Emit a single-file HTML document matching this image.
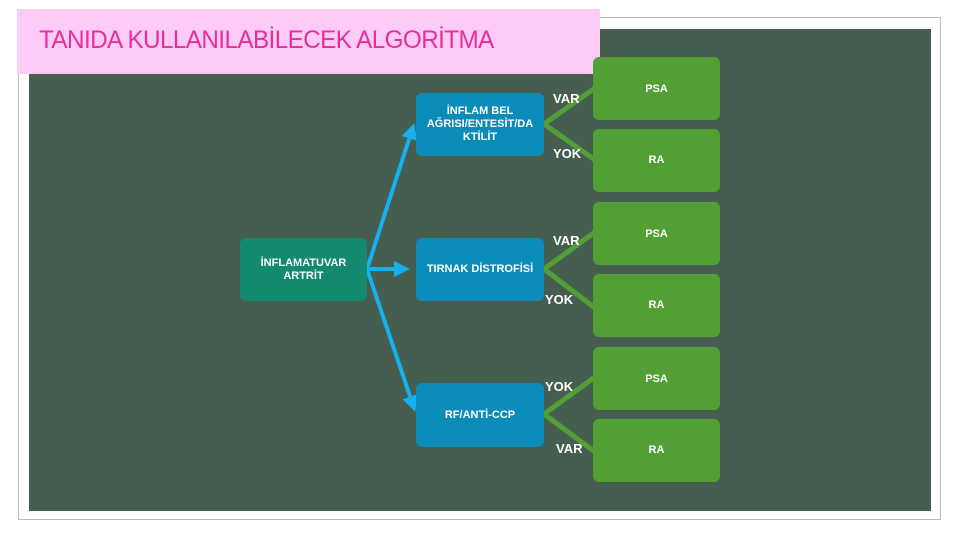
<!DOCTYPE html>
<html><head><meta charset="utf-8"><style>
body{margin:0;width:960px;height:540px;background:#fff;position:relative;overflow:hidden;font-family:"Liberation Sans",sans-serif}
.a{position:absolute}
.frame{left:18px;top:17px;width:923px;height:503px;border:1px solid #bdbdbd;box-sizing:border-box}
.panel{left:29px;top:29px;width:902px;height:482px;background:#465e50}
.title{left:17px;top:9px;width:583px;height:65px;background:#fecbf7}
.title span{position:absolute;left:22px;top:17px;font-size:25px;color:#e5309a;letter-spacing:-0.6px;transform:scaleX(0.97);transform-origin:left}
.box{position:absolute;border-radius:6px;color:#fff;font-weight:bold;font-size:11px;display:flex;align-items:center;justify-content:center;text-align:center;line-height:13px}
.b{background:#0a8bb8}
.g{background:#52a035}
.lbl{position:absolute;color:#fff;font-weight:bold;font-size:13px}
</style></head><body>
<div class="a frame"></div>
<div class="a panel"></div>
<div class="a title"><span>TANIDA KULLANILABİLECEK ALGORİTMA</span></div>
<svg class="a" style="left:0;top:0" width="960" height="540">
<defs><marker id="ah" markerWidth="4" markerHeight="4" refX="3" refY="2" orient="auto" markerUnits="strokeWidth"><path d="M0,0 L4,2 L0,4z" fill="#16b0ee"/></marker></defs>
<g stroke="#16b0ee" stroke-width="4" fill="none">
<line x1="367" y1="269" x2="413" y2="127" marker-end="url(#ah)"/>
<line x1="367" y1="269" x2="406" y2="269" marker-end="url(#ah)"/>
<line x1="367" y1="269" x2="414" y2="408" marker-end="url(#ah)"/>
</g>
<g stroke="#52a035" stroke-width="5" fill="none">
<polyline points="595,88 544,124 595,160"/>
<polyline points="595,232 544,269 595,308"/>
<polyline points="595,377 544,414 595,452"/>
</g>
</svg>
<div class="box" style="left:240px;top:238px;width:127px;height:63px;background:#13896f">İNFLAMATUVAR<br>ARTRİT</div>
<div class="box b" style="left:416px;top:93px;width:128px;height:63px">İNFLAM BEL<br>AĞRISI/ENTESİT/DA<br>KTİLİT</div>
<div class="box b" style="left:416px;top:238px;width:128px;height:63px">TIRNAK DİSTROFİSİ</div>
<div class="box b" style="left:416px;top:383px;width:128px;height:64px">RF/ANTİ-CCP</div>
<div class="box g" style="left:593px;top:57px;width:127px;height:63px;align-items:flex-start;padding-top:26px;box-sizing:border-box">PSA</div>
<div class="box g" style="left:593px;top:129px;width:127px;height:63px">RA</div>
<div class="box g" style="left:593px;top:202px;width:127px;height:63px;align-items:flex-start;padding-top:26px;box-sizing:border-box">PSA</div>
<div class="box g" style="left:593px;top:274px;width:127px;height:63px">RA</div>
<div class="box g" style="left:593px;top:347px;width:127px;height:63px;align-items:flex-start;padding-top:26px;box-sizing:border-box">PSA</div>
<div class="box g" style="left:593px;top:419px;width:127px;height:63px">RA</div>
<div class="lbl" style="left:553px;top:91px">VAR</div>
<div class="lbl" style="left:553px;top:146px">YOK</div>
<div class="lbl" style="left:553px;top:233px">VAR</div>
<div class="lbl" style="left:545px;top:292px">YOK</div>
<div class="lbl" style="left:545px;top:379px">YOK</div>
<div class="lbl" style="left:556px;top:441px">VAR</div>
</body></html>
